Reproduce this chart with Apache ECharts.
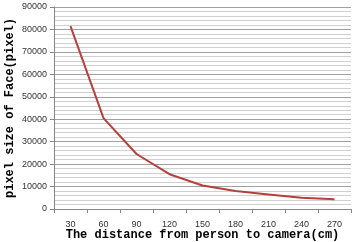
<!DOCTYPE html>
<html><head><meta charset="utf-8">
<script src="https://cdn.jsdelivr.net/npm/echarts@6/dist/echarts.min.js"></script>
<style>html,body{margin:0;padding:0;background:#fff}#c{width:362px;height:242px}</style>
</head><body><div id="c"></div>
<script>
const categories = ['30','60','90','120','150','180','210','240','270'];
const faceSize = [81500, 40500, 24500, 15500, 10500, 8000, 6500, 5000, 4300];
const xTitle = 'The distance from person to camera(cm)';
const yTitle = 'pixel size of Face(pixel)';

const chart = echarts.init(document.getElementById('c'), null, {renderer:'canvas'});
chart.setOption({
  animation:false,
  grid:{left:54, right:11, top:7, bottom:33, containLabel:false, outerBoundsMode:'none'},
  xAxis:{
    type:'category', data:categories, boundaryGap:true,
    name:xTitle, nameLocation:'middle', nameGap:20, nameMoveOverlap:false,
    nameTextStyle:{fontFamily:'Liberation Mono', fontWeight:'bold', fontSize:12, color:'#000'},
    axisLine:{lineStyle:{color:'#888'}},
    axisTick:{show:true, length:4, lineStyle:{color:'#888'}},
    axisLabel:{fontFamily:'Liberation Sans', fontSize:9, color:'#333', margin:11}
  },
  yAxis:{
    type:'value', min:0, max:90000, interval:10000,
    name:yTitle, nameLocation:'middle', nameGap:38, nameRotate:90, nameMoveOverlap:false,
    nameTextStyle:{fontFamily:'Liberation Mono', fontWeight:'bold', fontSize:12, color:'#000'},
    axisLine:{show:true, lineStyle:{color:'#888'}},
    axisTick:{show:true, length:4, lineStyle:{color:'#888'}},
    axisLabel:{fontFamily:'Liberation Sans', fontSize:9, color:'#333', margin:7, formatter:v=>String(v)},
    splitLine:{show:true, lineStyle:{color:'#a0a0a0', width:1}},
    minorTick:{show:false, splitNumber:5},
    minorSplitLine:{show:true, lineStyle:{color:'#d0d0d0', width:1}}
  },
  series:[{
    type:'line', data:faceSize, symbol:'none', smooth:false,
    lineStyle:{color:'#b5403d', width:2}
  }]
});
</script></body></html>
